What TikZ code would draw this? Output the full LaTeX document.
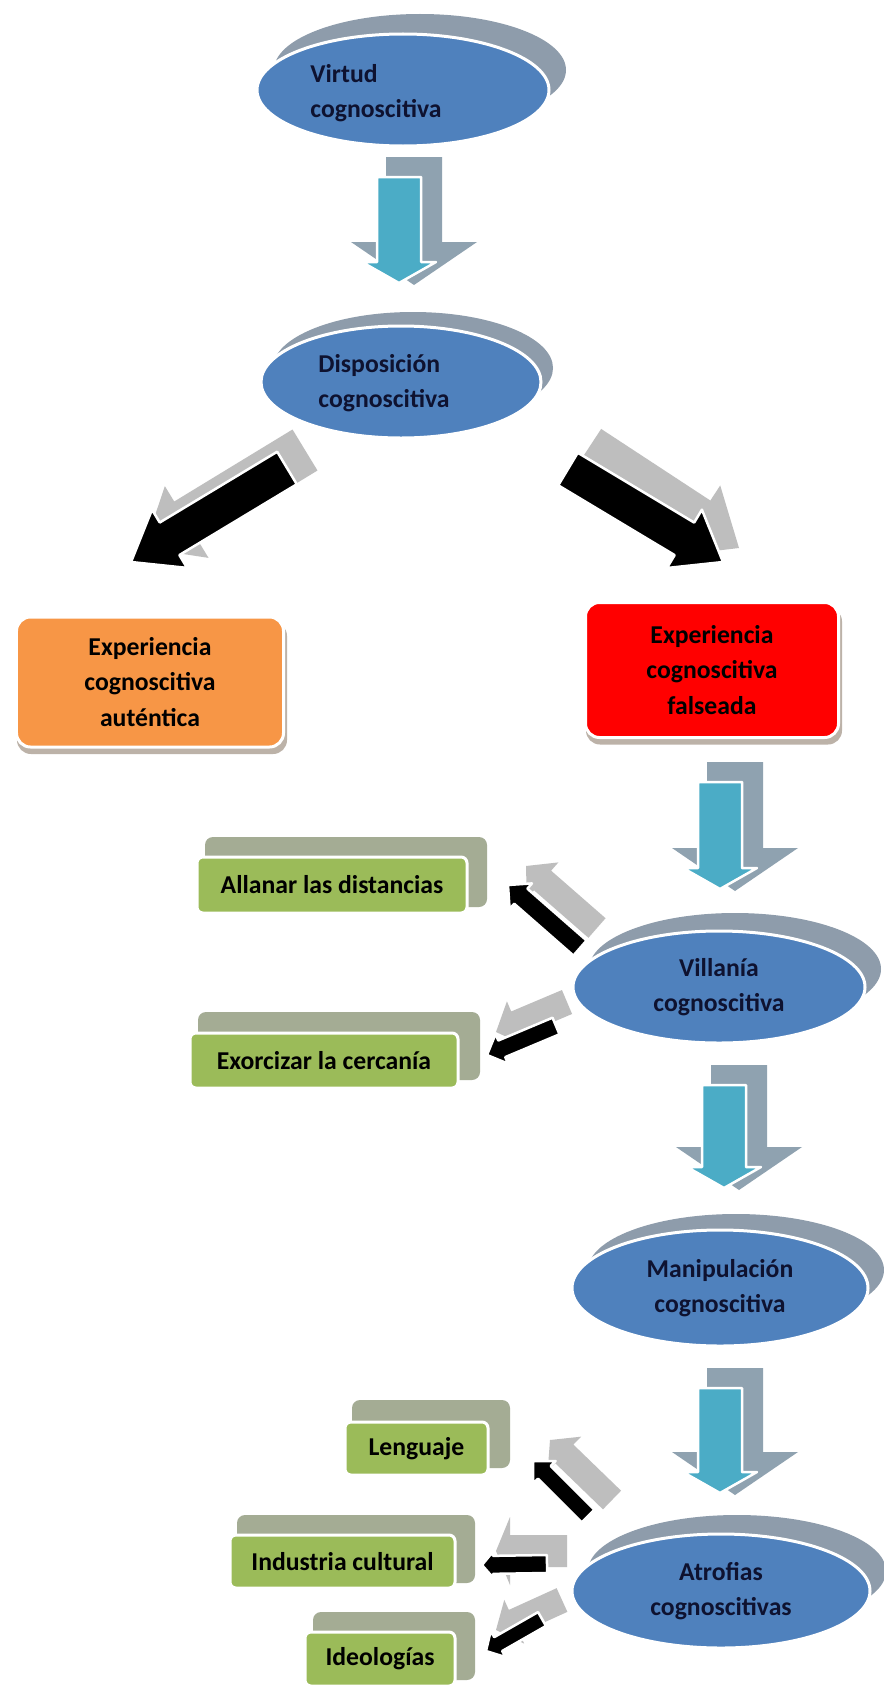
\documentclass[tikz,border=0pt]{standalone}
\usepackage{fontspec}
\newfontfamily\calib{Carlito}
\usetikzlibrary{shapes.geometric,calc}

\definecolor{ellblue}{HTML}{4F81BD}
\definecolor{ellshade}{HTML}{8E9CAB}
\definecolor{aqua}{HTML}{4BACC6}
\definecolor{aquashade}{HTML}{8FA2B0}
\definecolor{blkshade}{HTML}{BEBEBE}
\definecolor{orangebox}{HTML}{F79646}
\definecolor{redbox}{HTML}{FF0000}
\definecolor{greenbox}{HTML}{9BBB59}
\definecolor{greenshade}{HTML}{A4AC94}
\definecolor{boxshade}{HTML}{BCB2A8}
\definecolor{textdark}{HTML}{0E1230}

\newcommand{\lbl}{\calib\bfseries\fontsize{25.8}{35.5}\selectfont}

% block arrow: #1 tail, #2 tip, #3 shaft half-width, #4 head half-width, #5 head length, #6 style
\newcommand{\blockarrow}[6]{%
  \coordinate (ah) at ($(#2)!#5bp!(#1)$);
  \path[#6] ($(#1)!#3bp!90:(#2)$) -- ($(ah)!#3bp!90:(#2)$) -- ($(ah)!#4bp!90:(#2)$)
    -- (#2) -- ($(ah)!#4bp!-90:(#2)$) -- ($(ah)!#3bp!-90:(#2)$) -- ($(#1)!#3bp!-90:(#2)$) -- cycle;
}
% aqua down arrow with its grey extrusion
\newcommand{\aquaarrow}[2]{%
  \coordinate (dsa) at ($(#1)+(15,-20)$);
  \coordinate (dsb) at ($(#2)+(15,2)$);
  \blockarrow{dsa}{dsb}{28}{63}{43}{fill=aquashade}
  \blockarrow{#1}{#2}{22}{37}{21}{fill=aqua, draw=white, line width=2.5bp, line join=round}
}

\tikzset{
  bubble/.style={ellipse, fill=ellblue, draw=white, line width=3bp, minimum height=112bp,
    inner sep=0pt, align=center, font=\lbl, text=textdark},
  bubbleshade/.style={ellipse, fill=ellshade, minimum height=112bp, inner sep=0pt},
  bigbox/.style={rectangle, rounded corners=14bp, draw=white, line width=3bp, inner sep=0pt,
    align=center, font=\lbl, text=black},
  bigboxshade/.style={rectangle, rounded corners=14bp, fill=boxshade, inner sep=0pt},
  leaf/.style={rectangle, rounded corners=6bp, fill=greenbox, draw=white, line width=3bp,
    inner sep=0pt, align=center, font=\lbl, text=black},
  leafback/.style={rectangle, rounded corners=8bp, fill=greenshade, inner sep=0pt},
  blk/.style={fill=black, draw=white, line width=2.5bp, line join=round},
  blkshadow/.style={fill=blkshade},
}

\begin{document}
\begin{tikzpicture}[x=1bp,y=-1bp]
\useasboundingbox (0,0) rectangle (883,1686);
\fill[white] (0,0) rectangle (883,1686);

% ---------- centres ----------
\coordinate (c1) at (403,90);
\coordinate (c2) at (401,382);
\coordinate (c3) at (719,987);
\coordinate (c4) at (720,1288);
\coordinate (c5) at (721,1591);

% ---------- ovals ----------
\node[bubbleshade, minimum width=292bp] (e1s) at ($(c1)+(17,-20)$) {};
\node[bubble, minimum width=292bp] (e1) at (c1) {};
\node[font=\lbl, text=textdark, align=left, inner sep=0pt] (t1) at ($(c1)+(-27,3)$) {Virtud\\cognoscitiva};

\node[bubbleshade, minimum width=280bp] (e2s) at ($(c2)+(12,-14)$) {};
\node[bubble, minimum width=280bp] (e2) at (c2) {};
\node[font=\lbl, text=textdark, align=left, inner sep=0pt] (t2) at ($(c2)+(-17,1)$) {Disposición\\cognoscitiva};

\node[bubbleshade, minimum width=292bp] (e3s) at ($(c3)+(16,-18)$) {};
\node[bubble, minimum width=292bp] (e3) at (c3) {Villanía\\cognoscitiva};

\node[bubbleshade, minimum width=296bp] (e4s) at ($(c4)+(16,-18)$) {};
\node[bubble, minimum width=296bp, minimum height=116bp] (e4) at (c4) {Manipulación\\cognoscitiva};

\node[bubbleshade, minimum width=298bp] (e5s) at ($(c5)+(16,-20)$) {};
\node[bubble, minimum width=298bp, minimum height=114bp] (e5) at (c5) {Atrofias\\cognoscitivas};

% ---------- aqua arrows ----------
\coordinate (a1t) at (399,177);  \coordinate (a1h) at (399,283);
\coordinate (a2t) at (720,782);  \coordinate (a2h) at (720,889);
\coordinate (a3t) at (724,1085); \coordinate (a3h) at (724,1188);
\coordinate (a4t) at (720,1388); \coordinate (a4h) at (720,1493);
\aquaarrow{a1t}{a1h}
\aquaarrow{a2t}{a2h}
\aquaarrow{a3t}{a3h}
\aquaarrow{a4t}{a4h}

% ---------- outcome boxes ----------
\coordinate (ob) at (150,682);
\coordinate (rb) at (712,670);
\node[bigboxshade, minimum width=270bp, minimum height=132bp] (obs) at ($(ob)+(2,6)$) {};
\node[bigbox, fill=orangebox, minimum width=267bp, minimum height=130bp] (orange) at (ob)
  {Experiencia\\cognoscitiva\\auténtica};
\node[bigboxshade, minimum width=256bp, minimum height=137bp] (rbs) at ($(rb)+(2,6)$) {};
\node[bigbox, fill=redbox, minimum width=253bp, minimum height=135bp] (red) at (rb)
  {Experiencia\\cognoscitiva\\falseada};

% ---------- black arrows from the disposition ----------
\coordinate (bl1s) at (305,450); \coordinate (bl1sh) at (144,548);
\coordinate (bl1t) at (287,468); \coordinate (bl1h) at (131,562);
\blockarrow{bl1s}{bl1sh}{24}{42}{50}{blkshadow}
\blockarrow{bl1t}{bl1h}{19}{34}{45}{blk}

\coordinate (br1s) at (588,449); \coordinate (br1sh) at (739,548);
\coordinate (br1t) at (568,469); \coordinate (br1h) at (723,562);
\blockarrow{br1s}{br1sh}{24}{42}{50}{blkshadow}
\blockarrow{br1t}{br1h}{19}{34}{45}{blk}

% ---------- leaves of the villainy ----------
\node[leafback, minimum width=282bp, minimum height=70bp] (l1b) at (346,872) {};
\node[leaf, minimum width=270bp, minimum height=56bp] (l1) at (332,885) {Allanar las distancias};
\node[leafback, minimum width=282bp, minimum height=68bp] (l2b) at (339,1046) {};
\node[leaf, minimum width=268bp, minimum height=55bp] (l2) at (324,1060.5) {Exorcizar la cercanía};

\coordinate (m1s) at (597,928); \coordinate (m1sh) at (526,866);
\coordinate (m1t) at (580,948); \coordinate (m1h) at (508,885);
\blockarrow{m1s}{m1sh}{13}{24}{22}{blkshadow}
\blockarrow{m1t}{m1h}{10}{17}{17}{blk}

\coordinate (m2s) at (567,1002); \coordinate (m2sh) at (496,1032);
\coordinate (m2t) at (556,1026); \coordinate (m2h) at (487,1055);
\blockarrow{m2s}{m2sh}{13}{24}{22}{blkshadow}
\blockarrow{m2t}{m2h}{9}{16}{16}{blk}

% ---------- leaves of the atrophies ----------
\node[leafback, minimum width=158bp, minimum height=68bp] (l3b) at (431,1434) {};
\node[leaf, minimum width=143bp, minimum height=53bp] (l3) at (416.5,1448.5) {Lenguaje};
\node[leafback, minimum width=238bp, minimum height=68bp] (l4b) at (356,1549) {};
\node[leaf, minimum width=225bp, minimum height=53bp] (l4) at (342.5,1561.5) {Industria cultural};
\node[leafback, minimum width=162bp, minimum height=68bp] (l5b) at (394,1646) {};
\node[leaf, minimum width=150bp, minimum height=54bp] (l5) at (380,1659) {Ideologías};

\coordinate (n1s) at (612,1500); \coordinate (n1sh) at (550,1440);
\coordinate (n1t) at (588,1516); \coordinate (n1h) at (533,1461);
\blockarrow{n1s}{n1sh}{13}{24}{20}{blkshadow}
\blockarrow{n1t}{n1h}{9}{16}{16}{blk}

\coordinate (n2s) at (567,1551); \coordinate (n2sh) at (496,1551);
\coordinate (n2t) at (547,1564); \coordinate (n2h) at (482,1565);
\blockarrow{n2s}{n2sh}{16}{34}{14}{blkshadow}
\blockarrow{n2t}{n2h}{9}{13}{11}{blk}

\coordinate (n3s) at (562,1600); \coordinate (n3sh) at (496,1630);
\coordinate (n3t) at (542,1619); \coordinate (n3h) at (486,1651);
\blockarrow{n3s}{n3sh}{13}{24}{20}{blkshadow}
\blockarrow{n3t}{n3h}{8}{15}{14}{blk}
\end{tikzpicture}
\end{document}
